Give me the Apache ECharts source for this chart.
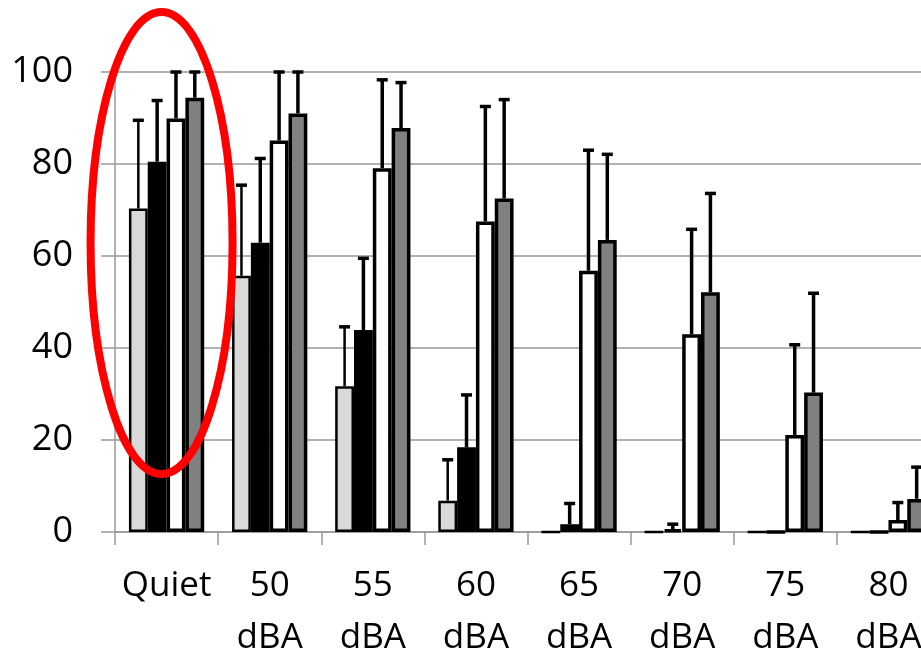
<!DOCTYPE html>
<html>
<head>
<meta charset="utf-8">
<script src="https://cdn.jsdelivr.net/npm/echarts@6/dist/echarts.min.js"></script>
<style>
  html, body { margin: 0; padding: 0; background: #fff; }
  #chart { width: 921px; height: 656px; }
</style>
</head>
<body>
<div id="chart"></div>
<script>
const categories = ['Quiet', '50\ndBA', '55\ndBA', '60\ndBA', '65\ndBA', '70\ndBA', '75\ndBA', '80\ndBA']

// bar heights, one array per series
const lightValues = [70.3, 55.7, 31.7, 6.8, 0, 0, 0, 0]
const blackValues = [80.5, 62.9, 43.9, 18.4, 1.7, 0.5, 0, 0]
const whiteValues = [89.9, 85.1, 79.1, 67.5, 56.8, 43.0, 21.1, 2.6]
const darkValues = [94.4, 91.0, 87.8, 72.5, 63.5, 52.1, 30.3, 7.2]

// top of each error bar (null = no error bar drawn)
const lightErrTop = [89.5, 75.4, 44.6, 15.7, null, null, null, null]
const blackErrTop = [93.8, 81.2, 59.5, 29.8, 6.2, 1.7, null, null]
const whiteErrTop = [100, 100, 98.3, 92.5, 83.0, 65.8, 40.7, 6.4]
const darkErrTop = [100, 100, 97.7, 94.0, 82.1, 73.6, 51.9, 14.1]

const yTicks = [0, 20, 40, 60, 80, 100]

const CAT_GAP = 0.27
const FONT = '"Open Sans", sans-serif'

const seriesDefs = [
  { name: 'a', color: '#d9d9d9', values: lightValues, err: lightErrTop, border: 2.5, errWidth: 2.5 },
  { name: 'b', color: '#000000', values: blackValues, err: blackErrTop, border: 3.5, errWidth: 3.5 },
  { name: 'c', color: '#ffffff', values: whiteValues, err: whiteErrTop, border: 3.5, errWidth: 3.5 },
  { name: 'd', color: '#808080', values: darkValues, err: darkErrTop, border: 3.5, errWidth: 3.5 }
]

const makeErrorSeries = (def, idx) => {
  const data = []
  def.values.forEach((v, i) => {
    if (def.err[i] != null) data.push([i, v, def.err[i]])
  })
  return {
    type: 'custom',
    z: 5,
    silent: true,
    data: data,
    renderItem: (params, api) => {
      const base = api.coord([api.value(0), 0])
      const band = api.size([1, 0])[0]
      const barW = band * (1 - CAT_GAP) / 4
      const cx = base[0] + (idx - 1.5) * barW
      const y1 = api.coord([api.value(0), api.value(1)])[1]
      const y2 = api.coord([api.value(0), api.value(2)])[1]
      return {
        type: 'group',
        children: [
          { type: 'line', shape: { x1: cx, y1: y1, x2: cx, y2: y2 }, style: { stroke: '#000', lineWidth: def.errWidth } },
          { type: 'line', shape: { x1: cx - 5.5, y1: y2, x2: cx + 5.5, y2: y2 }, style: { stroke: '#000', lineWidth: 3.5 } }
        ]
      }
    }
  }
}

const barSeries = seriesDefs.map(def => ({
  name: def.name,
  type: 'bar',
  data: def.values,
  barGap: '0%',
  barCategoryGap: (CAT_GAP * 100) + '%',
  itemStyle: { color: def.color, borderColor: '#000', borderWidth: def.border },
  animation: false
}))

const chart = echarts.init(document.getElementById('chart'))

chart.setOption({
  animation: false,
  grid: { left: 115, top: 72, width: 825, height: 460, outerBoundsMode: 'none', containLabel: false },
  xAxis: {
    type: 'category',
    data: categories,
    axisLine: { show: true, lineStyle: { color: '#999', width: 1.5 } },
    axisTick: { show: true, length: 13, lineStyle: { color: '#999', width: 1.5 } },
    axisLabel: {
      color: '#000',
      fontFamily: FONT,
      fontSize: 35,
      lineHeight: 52,
      margin: 28,
      interval: 0
    }
  },
  yAxis: {
    type: 'value',
    min: 0,
    max: 100,
    interval: 20,
    axisLine: { show: true, lineStyle: { color: '#999', width: 1.5 } },
    axisTick: { show: true, length: 14, lineStyle: { color: '#999', width: 1.5 } },
    splitLine: { show: true, lineStyle: { color: '#999', width: 1.5 } },
    axisLabel: {
      color: '#000',
      fontFamily: FONT,
      fontSize: 36,
      margin: 42,
      formatter: v => yTicks.includes(v) ? String(v) : ''
    }
  },
  series: barSeries.concat(seriesDefs.map(makeErrorSeries))
})

// red ellipse annotation around the Quiet group
const ELLIPSE_CENTER_VALUE = 62.8
const center = chart.convertToPixel({ gridIndex: 0 }, [0, ELLIPSE_CENTER_VALUE])
chart.setOption({
  graphic: [{
    type: 'ellipse',
    z: 100,
    shape: { cx: center[0] - 5, cy: center[1], rx: 71, ry: 231 },
    style: { fill: 'none', stroke: '#ff0000', lineWidth: 8 }
  }]
})
</script>
</body>
</html>
